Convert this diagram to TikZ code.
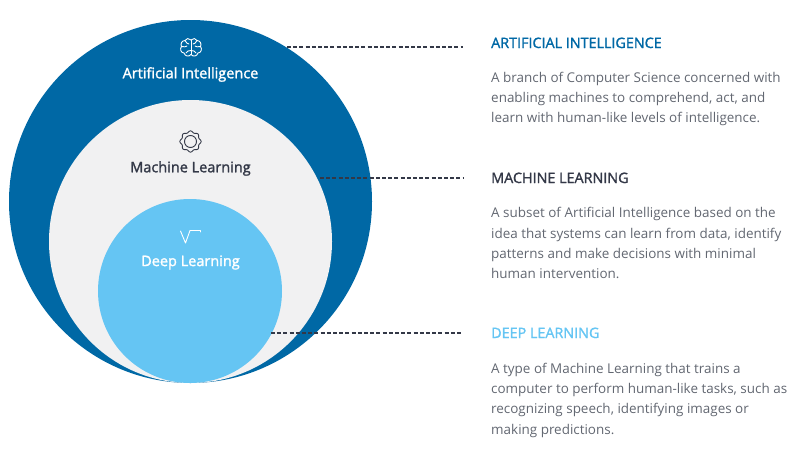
\documentclass[tikz,border=0pt]{standalone}
\usepackage{fontspec}
\setmainfont{Open Sans}
\definecolor{AiBlue}{RGB}{0,104,165}
\definecolor{MlGrey}{RGB}{241,241,242}
\definecolor{DlBlue}{RGB}{101,197,243}
\definecolor{InkDark}{RGB}{51,56,71}
\definecolor{BodyGrey}{RGB}{98,103,113}
\newfontfamily\semibold[FakeBold=1.5]{Open Sans}
\tikzset{
  circlelabel/.style={font=\fontsize{14.5}{17}\selectfont\semibold, inner sep=0pt},
  headlabel/.style={font=\fontsize{14.35}{17}\selectfont\semibold, anchor=base west, inner sep=0pt},
  bodytext/.style={font=\fontsize{13.45}{20.2}\selectfont, color=BodyGrey, anchor=north west, align=left, inner sep=0pt},
  leader/.style={InkDark, line width=1.8pt, dash pattern=on 4pt off 2.2pt},
  iconline/.style={line width=0.9pt, line join=round, line cap=round}
}
\begin{document}
\begin{tikzpicture}[x=1pt,y=-1pt]
        \useasboundingbox (0,0) rectangle (800,458);

        % Circles
        \fill[AiBlue] (190.5,201.5) circle (181.5);
        \fill[MlGrey] (190.5,241.5) circle (141.5);
        \fill[DlBlue] (190,291) circle (92);

        % Labels in the circles
        \node[circlelabel, white] (ailabel) at (190.5,74.5) {Artificial Intelligence};
        \node[circlelabel, InkDark] (mllabel) at (190.5,168.5) {Machine Learning};
        \node[circlelabel, white] (dllabel) at (190.5,262.5) {Deep Learning};

        % Brain icon
        \begin{scope}[shift={(191,48)}, iconline, white]
          \draw (0,-8) .. controls (-2,-10) and (-5,-10) .. (-6,-7.5) .. controls (-9,-7.5) and (-11,-4) .. (-9.5,-1.5) .. controls (-11.5,1) and (-10,5) .. (-7,5) .. controls (-6,8.5) and (-2,9) .. (0,6.5);
          \draw (0,-8) .. controls (2,-10) and (5,-10) .. (6,-7.5) .. controls (9,-7.5) and (11,-4) .. (9.5,-1.5) .. controls (11.5,1) and (10,5) .. (7,5) .. controls (6,8.5) and (2,9) .. (0,6.5);
          \draw (0,-8) -- (0,6.5);
          \draw (-6,-7.5) .. controls (-5,-5) and (-3,-4) .. (-2,-4);
          \draw (6,-7.5) .. controls (5,-5) and (3,-4) .. (2,-4);
          \draw (-9.5,-1.5) .. controls (-7,0) and (-5,-2) .. (-4,-2);
          \draw (9.5,-1.5) .. controls (7,0) and (5,-2) .. (4,-2);
          \draw (-5,5) .. controls (-4,3) and (-2,2.5) .. (0,2.5);
          \draw (5,5) .. controls (4,3) and (2,2.5) .. (0,2.5);
        \end{scope}

        % Gear icon
        \begin{scope}[shift={(190.5,141.5)}, iconline, InkDark]
          \draw (0,0) circle (6);
          \draw plot[domain=0:360, samples=145, smooth] (\x:{9.8+0.8*cos(8*\x)});
        \end{scope}

        % Root icon
        \draw[iconline, white] (180.5,231) -- (185.5,243) -- (190,230.5) -- (200.5,230.5) -- (200.5,232);

        % Leaders
        \coordinate (aistart) at (287,47);
        \coordinate (aiend) at (463,47);
        \coordinate (mlstart) at (320,178);
        \coordinate (mlend) at (463,178);
        \coordinate (dlstart) at (271,333);
        \coordinate (dlend) at (463,333);
        \draw[leader] (aistart) -- (aiend);
        \draw[leader] (mlstart) -- (mlend);
        \draw[leader] (dlstart) -- (dlend);

        % Text column
        \node[headlabel, AiBlue] (aihead) at (491,48) {ARTIFICIAL INTELLIGENCE};
        \node[bodytext] (aibody) at (491,72) {A branch of Computer Science concerned with\\enabling machines to comprehend, act, and\\learn with human-like levels of intelligence.};
        \node[headlabel, InkDark] (mlhead) at (491,183) {MACHINE LEARNING};
        \node[bodytext] (mlbody) at (491,207.5) {A subset of Artificial Intelligence based on the\\idea that systems can learn from data, identify\\patterns and make decisions with minimal\\human intervention.};
        \node[headlabel, DlBlue] (dlhead) at (491,338) {DEEP LEARNING};
        \node[bodytext] (dlbody) at (491,363) {A type of Machine Learning that trains a\\computer to perform human-like tasks, such as\\recognizing speech, identifying images or\\making predictions.};
\end{tikzpicture}
\end{document}
